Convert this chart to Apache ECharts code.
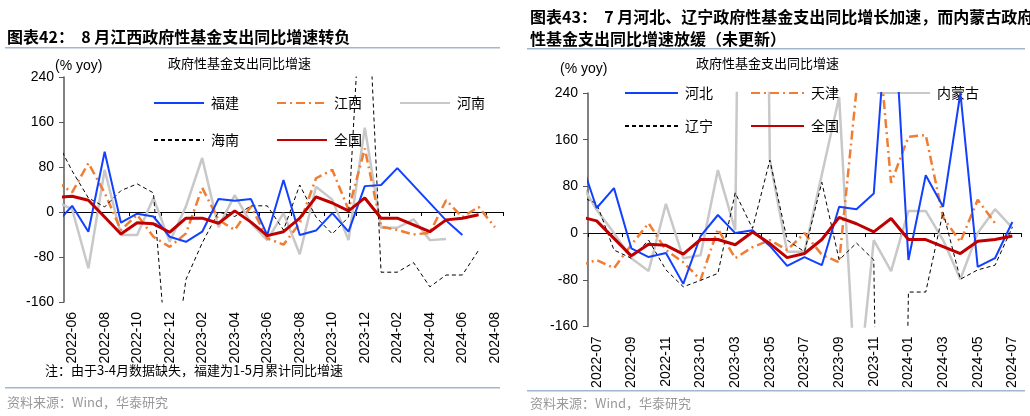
<!DOCTYPE html>
<html><head><meta charset="utf-8">
<script src="https://cdn.jsdelivr.net/npm/echarts@6/dist/echarts.min.js"></script>
<style>html,body{margin:0;padding:0;background:#fff}#c{width:1030px;height:416px}</style>
</head><body><div id="c"></div>
<script>
// ---------- Left chart (图表42) ----------
const leftMonths = ['2022-06','2022-07','2022-08','2022-09','2022-10','2022-11','2022-12',
  '2023-01','2023-02','2023-03','2023-04','2023-05','2023-06','2023-07','2023-08','2023-09',
  '2023-10','2023-11','2023-12','2024-01','2024-02','2024-03','2024-04','2024-05','2024-06',
  '2024-07','2024-08'];
// first value of each series = month before the first category (clipped at axis start)
const fujian  = [-21, 11,-35,107,-19,-3,-8,-44,-53,-35,23,20,23,-41,57,-41,-33,-2,-35,46,48,78,null,null,-15,-41,null,null];
const jiangxi = [55, 35,87,34,-32,-5,-44,-62,-38,43,-14,-32,10,-47,-58,-20,60,75,4,113,-26,-32,-40,-37,21,-9,9,-27];
const henan   = [19, 5,-100,75,-41,-41,25,-53,10,96,-27,30,-20,-50,-2,-75,45,22,-50,150,-28,-28,-13,-50,-48,null,null,null];
const hainan  = [129, 73,25,9,38,50,34,-330,-120,-55,0,-8,11,11,-32,48,-9,-39,-9,520,-107,-107,-90,-133,-112,-112,-68,null];
const national= [26, 28,21,-9,-39,-19,-21,-36,-11,-11,-20,2,-18,-42,-35,-11,27,16,2,25,-11,-11,-23,-35,-14,-11,-5,null];

// ---------- Right chart (图表43) ----------
const rightMonths = ['2022-07','2022-08','2022-09','2022-10','2022-11','2022-12','2023-01',
  '2023-02','2023-03','2023-04','2023-05','2023-06','2023-07','2023-08','2023-09','2023-10',
  '2023-11','2023-12','2024-01','2024-02','2024-03','2024-04','2024-05','2024-06','2024-07'];
const hebei     = [131, 43,77,-26,-41,-34,-87,-5,31,0,5,-22,-56,-41,-55,45,41,68,470,-46,99,45,240,-58,-43,19];
const tianjin   = [-56, -46,-60,-20,17,-29,-50,-80,7,-43,-24,-12,-29,0,-37,-50,245,420,86,165,168,27,-15,57,17,null];
const neimenggu = [90, 40,0,-43,-65,50,-43,-38,108,5,2500,125,-32,-32,100,233,-300,-12,-65,38,38,-12,-79,0,41,9];
const liaoning  = [63, 51,-29,-43,-12,-63,-92,-81,-69,69,8,125,-12,-32,87,-46,-17,-46,-2000,-101,-101,36,-79,-63,-55,10];
const nationalR = national.slice(1, rightMonths.length + 2);

const yTicks = {min: -160, max: 240, interval: 80};

function pts(arr) { return arr.map((v, i) => [i - 1, v]); }

const FONT_NUM = 'Liberation Sans, Arial, sans-serif';
const FONT_CJK = 'Noto Sans CJK SC, sans-serif';
const C = {blue:'#1240ff', orange:'#f07d32', gray:'#c8c8c8', black:'#000', red:'#c00000'};

function xAxesFor(grid, cats, yIdx) {
  return [
    {type:'category', gridIndex:grid, data:cats, boundaryGap:true, position:'bottom',
     axisLine:{show:true, onZero:true, onZeroAxisIndex:yIdx, lineStyle:{color:'#000', width:1}},
     axisTick:{show:true, interval:1, length:4, lineStyle:{color:'#000'}},
     axisLabel:{show:false}, splitLine:{show:false}},
    {type:'category', gridIndex:grid, data:cats, boundaryGap:true, position:'bottom',
     axisLine:{show:false, onZero:false}, axisTick:{show:false},
     axisLabel:{show:true, rotate:90, interval:1, margin:10, fontSize:14, color:'#000', fontFamily:FONT_NUM},
     splitLine:{show:false}},
    {type:'value', gridIndex:grid, min:-0.5, max:cats.length - 0.5, show:false,
     axisLine:{onZero:false}, splitLine:{show:false}}
  ];
}
function yAxisFor(grid) {
  return {type:'value', gridIndex:grid, min:yTicks.min, max:yTicks.max, interval:yTicks.interval,
    axisLine:{show:true, onZero:false, lineStyle:{color:'#595959', width:1.5}},
    axisTick:{show:true, length:5, lineStyle:{color:'#595959'}},
    axisLabel:{fontSize:14, color:'#000', margin:10, fontFamily:FONT_NUM},
    splitLine:{show:false}};
}
function line(name, data, xi, yi, color, width, type, z) {
  return {name, type:'line', xAxisIndex:xi, yAxisIndex:yi, data:pts(data), symbol:'none',
    connectNulls:true, clip:true, z:z, animation:false,
    lineStyle:{color, width, type}, itemStyle:{color}};
}

const dashDot = [9, 4, 2, 4];
const dashed = [4, 3];

const legendBase = {itemWidth:50, itemHeight:14, itemGap:37, itemStyle:{opacity:0},
  textStyle:{fontSize:14, color:'#000', fontFamily:FONT_CJK, padding:[0,0,0,2]}, selectedMode:false};

const option = {
  animation:false,
  grid:[
    {left:64, top:77, width:439, height:225},
    {left:588, top:93, width:433, height:233.5}
  ],
  xAxis:[...xAxesFor(0, leftMonths, 0), ...xAxesFor(1, rightMonths, 1)],
  yAxis:[yAxisFor(0), yAxisFor(1)],
  legend:[
    Object.assign({}, legendBase, {left:148, top:91, data:['福建','江西','河南']}),
    Object.assign({}, legendBase, {left:148, top:128, data:['海南','全国']}),
    Object.assign({}, legendBase, {left:619, top:81, itemWidth:53, data:['河北','天津','内蒙古']}),
    Object.assign({}, legendBase, {left:619, top:114, itemWidth:53, data:['辽宁','全国']})
  ],
  series:[
    line('河南', henan, 2, 0, C.gray, 2.5, 'solid', 2),
    line('江西', jiangxi, 2, 0, C.orange, 2.5, dashDot, 3),
    line('海南', hainan, 2, 0, C.black, 1, dashed, 4),
    line('福建', fujian, 2, 0, C.blue, 2, 'solid', 5),
    line('全国', national, 2, 0, C.red, 3, 'solid', 6),
    line('内蒙古', neimenggu, 5, 1, C.gray, 2.5, 'solid', 2),
    line('天津', tianjin, 5, 1, C.orange, 2.5, dashDot, 3),
    line('辽宁', liaoning, 5, 1, C.black, 1, dashed, 4),
    line('河北', hebei, 5, 1, C.blue, 2, 'solid', 5),
    line('全国', nationalR, 5, 1, C.red, 3, 'solid', 6)
  ],
  graphic:[
    {type:'text', left:7, top:29, style:{text:'图表42：  8 月江西政府性基金支出同比增速转负', font:'bold 16px ' + FONT_CJK, fill:'#000'}},
    {type:'rect', shape:{x:5, y:47, width:495, height:1.5}, style:{fill:'#a3b5cf'}},
    {type:'text', left:530, top:9, style:{text:'图表43：  7 月河北、辽宁政府性基金支出同比增长加速，而内蒙古政府', font:'bold 16px ' + FONT_CJK, fill:'#000'}},
    {type:'text', left:530, top:31, style:{text:'性基金支出同比增速放缓（未更新）', font:'bold 16px ' + FONT_CJK, fill:'#000'}},
    {type:'rect', shape:{x:527, y:48, width:498, height:1.5}, style:{fill:'#a3b5cf'}},
    {type:'text', left:168, top:57, style:{text:'政府性基金支出同比增速', font:'13px ' + FONT_CJK, fill:'#000'}},
    {type:'text', left:696, top:57, style:{text:'政府性基金支出同比增速', font:'13px ' + FONT_CJK, fill:'#000'}},
    {type:'text', left:55, top:59, style:{text:'(% yoy)', font:'14px ' + FONT_NUM, fill:'#000'}},
    {type:'text', left:560, top:62, style:{text:'(% yoy)', font:'14px ' + FONT_NUM, fill:'#000'}},
    {type:'text', left:45, top:364, style:{text:'注：由于3-4月数据缺失，福建为1-5月累计同比增速', font:'13px ' + FONT_CJK, fill:'#000'}},
    {type:'rect', shape:{x:5, y:387, width:495, height:1.5}, style:{fill:'#a3b5cf'}},
    {type:'rect', shape:{x:527, y:390, width:498, height:1.5}, style:{fill:'#a3b5cf'}},
    {type:'text', left:7, top:396, style:{text:'资料来源：Wind，华泰研究', font:'13px ' + FONT_CJK, fill:'#999'}},
    {type:'text', left:530, top:397, style:{text:'资料来源：Wind，华泰研究', font:'13px ' + FONT_CJK, fill:'#999'}}
  ]
};
const chart = echarts.init(document.getElementById('c'), null, {renderer:'canvas'});
chart.setOption(option);
</script>
</body></html>
